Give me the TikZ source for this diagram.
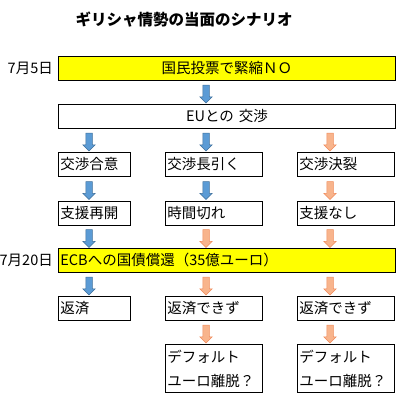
\documentclass[tikz,border=0pt]{standalone}
\usepackage{fontspec}
\newfontfamily\jpfont{Noto Sans CJK JP}
\usepackage{tikz}
\usetikzlibrary{calc, positioning, shapes.arrows}
\definecolor{bluefill}{HTML}{5B9BD5}
\definecolor{blueline}{HTML}{41719C}
\definecolor{orangefill}{HTML}{F8B48C}
\definecolor{orangeline}{HTML}{F08C5C}
\definecolor{hiyellow}{HTML}{FFFF00}
\newcommand\boxfont{\jpfont\fontsize{14.5}{24}\selectfont}
\newcommand\titlefont{\jpfont\bfseries\fontsize{15.5}{18}\selectfont}
% one block arrow between two boxes, on a given column
\newcommand\flowarrow[4]{\node[blockarrow=#1] at ($(#2 |- #3.south)!0.5!(#2 |- #4.north)$) {};}

\begin{document}
\begin{tikzpicture}[x=1pt, y=-1pt,
    box/.style={draw, line width=0.9pt, fill=#1, anchor=north west, inner sep=2pt, minimum height=24pt, align=left, font=\boxfont},
    wide/.style={box=#1, text width=333pt},
    small/.style={box=white, text width=68pt},
    mid/.style={box=white, text width=93pt},
    blockarrow/.style={single arrow, draw=#1line, fill=#1fill, line width=0.5pt, rotate=-90, minimum height=18pt, minimum width=12pt, single arrow head extend=3pt, inner xsep=0pt, inner ysep=3pt},
    date/.style={font=\boxfont, inner sep=0pt}
]
\useasboundingbox (0,0) rectangle (420,414);

\node[font=\titlefont] (title) at (184,20) {ギリシャ情勢の当面のシナリオ};

% arrow columns
\coordinate (cA) at (89,0);
\coordinate (cB) at (206,0);
\coordinate (cC) at (330,0);

\node[wide=hiyellow, align=center] (vote) at (58,56) {国民投票で緊縮ＮＯ};
\node[wide=white, align=center] (eu) at (58,104) {EUとの 交渉};

\node[small] (agree) at (58,152) {交渉合意};
\node[mid] (drag) at (165,152) {交渉長引く};
\node[mid] (break) at (297,152) {交渉決裂};

\node[small] (resume) at (58,201) {支援再開};
\node[mid] (timeout) at (165,201) {時間切れ};
\node[mid] (noaid) at (297,201) {支援なし};

\node[wide=hiyellow] (ecb) at (58,248) {ECBへの国債償還（35億ユーロ）};

\node[small] (repay) at (58,296) {返済};
\node[mid] (norepayB) at (165,296) {返済できず};
\node[mid] (norepayC) at (297,296) {返済できず};

\node[mid, minimum height=48pt] (defaultB) at (165,344) {デフォルト\\ユーロ離脱？};
\node[mid, minimum height=48pt] (defaultC) at (297,344) {デフォルト\\ユーロ離脱？};

\node[date, left=5pt of vote] (d1) {7月5日};
\node[date, left=5pt of ecb] (d2) {7月20日};

\flowarrow{blue}{cB}{vote}{eu}
\flowarrow{blue}{cA}{eu}{agree}
\flowarrow{blue}{cB}{eu}{drag}
\flowarrow{orange}{cC}{eu}{break}
\flowarrow{blue}{cA}{agree}{resume}
\flowarrow{blue}{cB}{drag}{timeout}
\flowarrow{orange}{cC}{break}{noaid}
\flowarrow{blue}{cA}{resume}{ecb}
\flowarrow{orange}{cB}{timeout}{ecb}
\flowarrow{orange}{cC}{noaid}{ecb}
\flowarrow{blue}{cA}{ecb}{repay}
\flowarrow{orange}{cB}{ecb}{norepayB}
\flowarrow{orange}{cC}{ecb}{norepayC}
\flowarrow{orange}{cB}{norepayB}{defaultB}
\flowarrow{orange}{cC}{norepayC}{defaultC}
\end{tikzpicture}
\end{document}
